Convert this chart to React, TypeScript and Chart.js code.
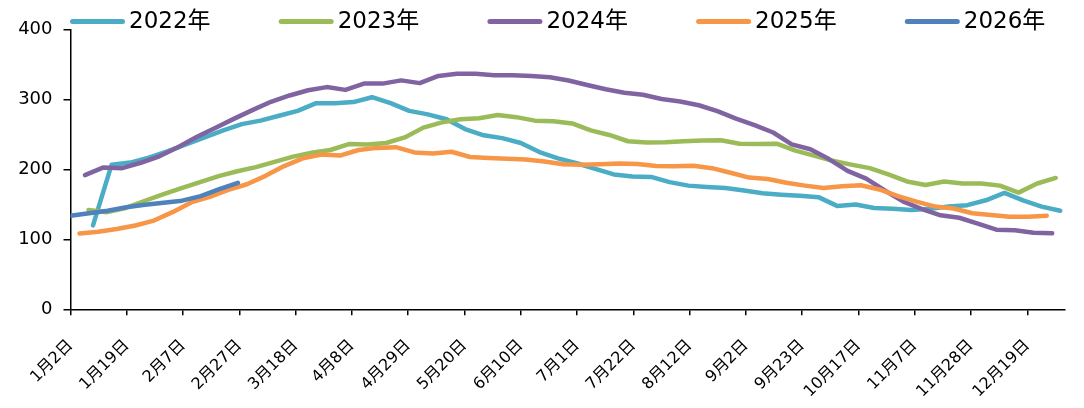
import { useEffect, useRef } from 'react';
import { Chart, registerables } from 'chart.js';

Chart.register(...registerables);

// x-axis labels, one every three weeks
const tickLabels = [
  '1月2日', '1月19日', '2月7日', '2月27日', '3月18日', '4月8日', '4月29日', '5月20日', '6月10日',
  '7月1日', '7月22日', '8月12日', '9月2日', '9月23日', '10月17日', '11月7日', '11月28日', '12月19日',
];

const seriesNames = ['2022年', '2023年', '2024年', '2025年', '2026年'];
const seriesColors = ['#4BACC6', '#9BBB59', '#8064A2', '#F79646', '#4F81BD'];

// first observation of each year, in weeks after 1月2日, and weekly step
const firstWeek = [1.2, 0.96, 0.77, 0.48, 0];
const WEEK_STEP = 0.9915;

const values2022 = [
  120, 207, 210, 217, 226, 236, 246, 256, 265, 270,
  277, 284, 295, 295, 296.5, 303.5, 295, 284, 279, 272,
  258, 249, 245, 238, 225, 216, 209, 201, 193, 190,
  189.5, 182, 177, 175, 173.5, 170, 166, 164, 162.5, 160.5,
  148, 150, 145, 144, 142, 144, 147, 149, 156, 166.5,
  156, 147, 141,
];
const values2023 = [
  142, 139, 145, 155, 164.5, 173.5, 182, 190.5, 197.5, 203.5,
  211, 218.5, 224, 228, 236.5, 236, 238, 246, 260, 267.5,
  272, 273.5, 278, 275, 270, 269, 266, 256, 249.5, 240.5,
  238.6, 239, 240.5, 241.5, 242, 237, 236.5, 237, 227, 220,
  212.5, 207, 202, 193, 183, 178, 183, 180, 180, 177,
  167, 180, 188,
];
const values2024 = [
  192, 203, 202, 209.7, 219, 232, 246.5, 259.5, 272.5, 285,
  297, 306, 313.5, 318, 314, 323, 323, 327.6, 323.7, 334,
  337, 337, 335, 335, 334, 332, 327.5, 321, 315, 310,
  307, 301, 297.5, 292, 283.5, 273, 263.5, 253, 236, 229,
  215, 198, 187, 170, 154, 143.5, 134.5, 131, 122.5, 114,
  113, 109.5, 109,
];
const values2025 = [
  108.5, 111, 115, 120, 127, 139, 153, 161, 171, 179,
  191, 205, 216, 221.5, 220, 228, 231, 232, 224.5, 223,
  225.5, 218, 216.5, 215.5, 214.5, 211.5, 207.5, 207, 207.5, 208.5,
  208, 205, 204.7, 205.5, 202, 195.5, 188.5, 186.5, 181, 177,
  173.5, 176, 177.5, 171.5, 162, 154, 147, 144.3, 137.5, 135,
  132.5, 132.3, 134,
];
const values2026 = [134, 137.5, 141, 146, 149.5, 152.5, 155.5, 162, 172, 181];

const seriesValues = [values2022, values2023, values2024, values2025, values2026];

const FONT = '"DejaVu Sans", "Noto Sans CJK SC", sans-serif';

const lineLegend = {
  id: 'lineLegend',
  afterDraw(chart: any) {
    const ctx = chart.ctx as CanvasRenderingContext2D;
    ctx.save();
    ctx.font = `23px ${FONT}`;
    ctx.textBaseline = 'middle';
    ctx.textAlign = 'left';
    chart.data.datasets.forEach((ds: any, i: number) => {
      const x0 = 62 + i * 208.7;
      const y = 13.5;
      ctx.strokeStyle = ds.borderColor;
      ctx.lineWidth = 5;
      ctx.lineCap = 'round';
      ctx.beginPath();
      ctx.moveTo(x0 + 2.5, y);
      ctx.lineTo(x0 + 52.5, y);
      ctx.stroke();
      ctx.fillStyle = '#000';
      ctx.fillText(ds.label, x0 + 59, y + 1);
    });
    ctx.restore();
  },
};

export default function App() {
  const canvasRef = useRef<HTMLCanvasElement | null>(null);

  useEffect(() => {
    if (!canvasRef.current) return;
    const datasets = seriesNames.map((name, s) => ({
      label: name,
      data: seriesValues[s].map((v, k) => ({ x: firstWeek[s] + k * WEEK_STEP, y: v })),
      borderColor: seriesColors[s],
      backgroundColor: seriesColors[s],
      borderWidth: 4.5,
      borderCapStyle: 'round' as const,
      borderJoinStyle: 'round' as const,
      pointRadius: 0,
      tension: 0,
      order: seriesNames.length - s,
    }));

    const chart = new Chart(canvasRef.current, {
      type: 'line',
      data: { datasets },
      plugins: [lineLegend],
      options: {
        animation: false,
        responsive: true,
        maintainAspectRatio: false,
        layout: { padding: { top: 21.3, right: 11.2, left: 0, bottom: 0 } },
        plugins: {
          legend: { display: false },
          tooltip: { enabled: false },
        },
        scales: {
          x: {
            type: 'linear',
            min: 0,
            max: 53,
            afterBuildTicks: (s: any) => {
              s.ticks = tickLabels.map((_, i) => ({ value: i * 3 }));
            },
            afterFit: (s: any) => {
              s.height = 90.7;
              s.paddingLeft = 0;
              s.paddingRight = 0;
            },
            ticks: {
              autoSkip: false,
              minRotation: 45,
              maxRotation: 45,
              padding: 21,
              color: '#000',
              font: { family: FONT, size: 16 },
              callback: (v: any) => tickLabels[Math.round(Number(v) / 3)] ?? '',
            },
            grid: { drawOnChartArea: false, drawTicks: true, tickLength: 6, color: '#000', lineWidth: 1.5 },
            border: { display: true, color: '#000', width: 1.5 },
          },
          y: {
            min: 0,
            max: 400,
            afterFit: (s: any) => {
              s.width = 62.5;
            },
            ticks: {
              stepSize: 100,
              padding: 11,
              color: '#000',
              font: { family: FONT, size: 18 },
            },
            grid: { drawOnChartArea: false, drawTicks: true, tickLength: 7, color: '#000', lineWidth: 1.5 },
            border: { display: true, color: '#000', width: 1.5 },
          },
        },
      },
    });
    return () => chart.destroy();
  }, []);

  return (
    <div style={{ position: 'relative', width: 1068, height: 392 }}>
      <canvas ref={canvasRef} />
    </div>
  );
}
